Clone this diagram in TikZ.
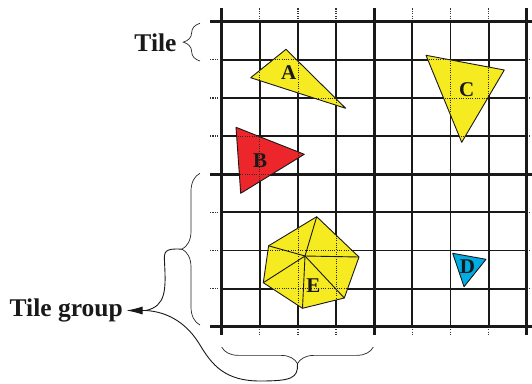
\documentclass[tikz,border=0pt]{standalone}
\usepackage{fontspec}
\setmainfont{Liberation Serif}
\usetikzlibrary{decorations.pathreplacing,arrows.meta}
\definecolor{shyellow}{RGB}{246,234,32}
\definecolor{shred}{RGB}{236,38,42}
\definecolor{shcyan}{RGB}{0,172,228}
\begin{document}
\begin{tikzpicture}[x=1pt,y=-1pt,
  thickline/.style={line width=2.9pt, black!90},
  thinline/.style={line width=1.9pt, black!90},
  dotext/.style={line width=1.2pt, black!80, dash pattern=on 1.2pt off 1.2pt},
  dotgrid/.style={line width=0.9pt, black!85, dash pattern=on 1pt off 1.3pt},
  shapeline/.style={draw=black!90, line width=0.9pt, line join=round},
  lbl/.style={font=\fontsize{21}{21}\selectfont\bfseries, inner sep=0pt, text=black!90},
  bigtxt/.style={font=\fontsize{25.5}{25.5}\selectfont\bfseries, inner sep=0pt, text=black!90},
  bracestyle/.style={decorate, decoration={brace, amplitude=#1}, line width=0.7pt, black!85},
  curveline/.style={line width=0.9pt, black!90},
  arrowline/.style={line width=0.9pt, black!90, -{Latex[length=16pt,width=8pt]}}
]
\useasboundingbox (0,0) rectangle (532,383);

% ---- grid ----
\foreach \i in {1,2,3,5,6,7} {
  \pgfmathsetmacro\xx{221.7+38.125*\i}
  \draw[thinline] (\xx,21.7) -- (\xx,326.7);
  \draw[dotext] (\xx,8.3) -- (\xx,21.7);
  \draw[dotext] (\xx,326.7) -- (\xx,335);
  \pgfmathsetmacro\yy{21.7+38.125*\i}
  \draw[thinline] (221.7,\yy) -- (526.7,\yy);
  \draw[dotext] (210,\yy) -- (221.7,\yy);
  \draw[dotext] (526.7,\yy) -- (532,\yy);
}
\foreach \i in {0,4,8} {
  \pgfmathsetmacro\xx{221.7+38.125*\i}
  \draw[thickline] (\xx,8.3) -- (\xx,335);
  \pgfmathsetmacro\yy{21.7+38.125*\i}
  \draw[thickline] (210,\yy) -- (532,\yy);
}

% ---- shapes ----
\filldraw[shapeline, fill=shyellow] (286,49.3) -- (250.7,77.7) -- (345.7,108.3) -- cycle;
\filldraw[shapeline, fill=shyellow] (426,55.3) -- (504.3,70) -- (461.7,142.3) -- cycle;
\filldraw[shapeline, fill=shred] (236,127.3) -- (304.3,154.3) -- (240.7,193.3) -- cycle;
\filldraw[shapeline, fill=shcyan] (452.7,253.3) -- (486,259.3) -- (464,286.7) -- cycle;
\coordinate (ec) at (305,256);
\filldraw[shapeline, fill=shyellow] (316.7,216.7) coordinate (e1) -- (359,257) coordinate (e2)
  -- (344.3,298) coordinate (e3) -- (302.5,308.3) coordinate (e4)
  -- (263.3,282.7) coordinate (e5) -- (268.6,245.8) coordinate (e6) -- cycle;
\foreach \v in {e1,e2,e3,e4,e5,e6} \draw[shapeline] (ec) -- (\v);

% ---- dotted grid seen through shapes ----
\begin{scope}
\clip (286,49.3) -- (250.7,77.7) -- (345.7,108.3) -- cycle
      (426,55.3) -- (504.3,70) -- (461.7,142.3) -- cycle
      (236,127.3) -- (304.3,154.3) -- (240.7,193.3) -- cycle
      (452.7,253.3) -- (486,259.3) -- (464,286.7) -- cycle
      (e1) -- (e2) -- (e3) -- (e4) -- (e5) -- (e6) -- cycle;
\foreach \i in {0,...,8} {
  \pgfmathsetmacro\xx{221.7+38.125*\i}
  \draw[dotgrid] (\xx,21.7) -- (\xx,326.7);
  \pgfmathsetmacro\yy{21.7+38.125*\i}
  \draw[dotgrid] (221.7,\yy) -- (526.7,\yy);
}
\end{scope}

% ---- labels ----
\node[lbl] (la) at (288.8,72.8) {A};
\node[lbl] (lb) at (260,160.3) {B};
\node[lbl] (lc) at (466.7,89.5) {C};
\node[lbl] (ld) at (467.5,266.7) {D};
\node[lbl] (le) at (313.3,285.8) {E};

% ---- annotations ----
\node[bigtxt, anchor=base] (tile) at (155.5,51.5) {Tile};
\node[bigtxt, anchor=base west] (tg) at (9.5,316) {Tile group};

\draw[bracestyle=16.7] (200,61) -- (200,23.3);
\draw[bracestyle=18] (200,325) -- (200,173.3);
\draw[bracestyle=16.7] (373.3,347) -- (221.7,347);

\coordinate (ltip) at (181.8,249.2);
\coordinate (btip) at (297.5,363.7);
\coordinate (junc) at (146,310.5);
\coordinate (atip) at (126.5,310.5);

\draw[curveline] (ltip) .. controls (164,248) and (164,252) .. (164.5,262)
  .. controls (166,290) and (166,306) .. (junc);
\draw[curveline] (btip) .. controls (298,378) and (292,381) .. (260,381)
  .. controls (225,381) and (212,365) .. (200,345)
  .. controls (188,325) and (170,312) .. (junc);
\draw[arrowline] (junc) -- (atip);
\end{tikzpicture}
\end{document}
